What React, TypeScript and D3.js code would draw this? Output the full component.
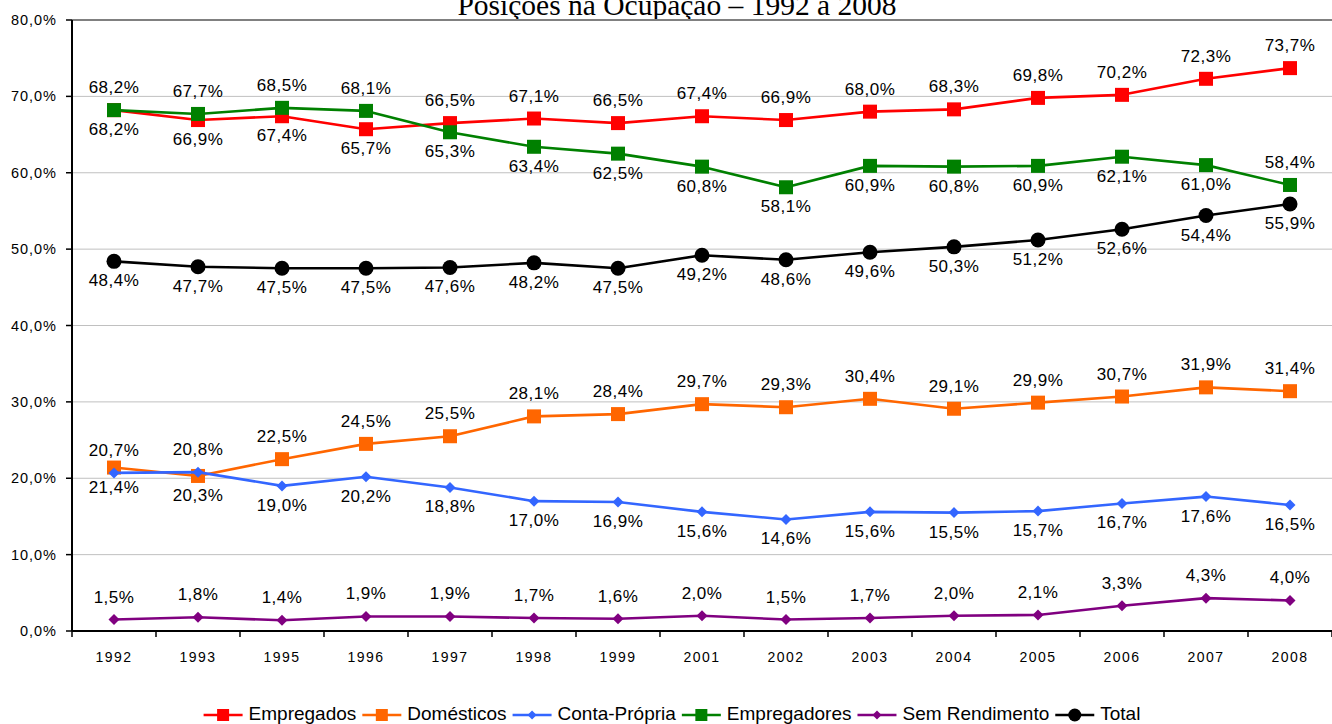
import React from 'react';
import {scaleBand, scaleLinear, line} from 'd3';

const years = ['1992', '1993', '1995', '1996', '1997', '1998', '1999', '2001', '2002', '2003', '2004', '2005', '2006', '2007', '2008'];
const yTicks = [0, 10, 20, 30, 40, 50, 60, 70, 80];

const empregados = [68.2, 66.9, 67.4, 65.7, 66.5, 67.1, 66.5, 67.4, 66.9, 68.0, 68.3, 69.8, 70.2, 72.3, 73.7];
const domesticos = [21.4, 20.3, 22.5, 24.5, 25.5, 28.1, 28.4, 29.7, 29.3, 30.4, 29.1, 29.9, 30.7, 31.9, 31.4];
const contaPropria = [20.7, 20.8, 19.0, 20.2, 18.8, 17.0, 16.9, 15.6, 14.6, 15.6, 15.5, 15.7, 16.7, 17.6, 16.5];
const empregadores = [68.2, 67.7, 68.5, 68.1, 65.3, 63.4, 62.5, 60.8, 58.1, 60.9, 60.8, 60.9, 62.1, 61.0, 58.4];
const semRendimento = [1.5, 1.8, 1.4, 1.9, 1.9, 1.7, 1.6, 2.0, 1.5, 1.7, 2.0, 2.1, 3.3, 4.3, 4.0];
const total = [48.4, 47.7, 47.5, 47.5, 47.6, 48.2, 47.5, 49.2, 48.6, 49.6, 50.3, 51.2, 52.6, 54.4, 55.9];

// where each data label sits: a = above, b = below
const empregadosLbl = 'bbbbaaaaaaaaaaa';
const domesticosLbl = 'bbaaaaaaaaaaaaa';
const contaPropriaLbl = 'aabbbbbbbbbbbbb';
const empregadoresLbl = 'aaaabbbbbbbbbba';
const semRendimentoLbl = 'aaaaaaaaaaaaaaa';
const totalLbl = 'bbbbbbbbbbbbbbb';

const series = [
  {name: 'Empregados', values: empregados, lbl: empregadosLbl, color: '#ff0000', marker: 'square', size: 14},
  {name: 'Domésticos', values: domesticos, lbl: domesticosLbl, color: '#ff6600', marker: 'square', size: 14},
  {name: 'Conta-Própria', values: contaPropria, lbl: contaPropriaLbl, color: '#3366ff', marker: 'diamond', size: 11},
  {name: 'Empregadores', values: empregadores, lbl: empregadoresLbl, color: '#008000', marker: 'square', size: 14},
  {name: 'Sem Rendimento', values: semRendimento, lbl: semRendimentoLbl, color: '#800080', marker: 'diamond', size: 11},
  {name: 'Total', values: total, lbl: totalLbl, color: '#000000', marker: 'circle', size: 15},
];

const font = '"Liberation Sans", Arial, sans-serif';
const fmt = (v: number) => v.toFixed(1).replace('.', ',') + '%';

const Marker = ({type, x, y, size, color}: any) => {
  const h = size / 2;
  if (type === 'square') return <rect x={x - h} y={y - h} width={size} height={size} fill={color} />;
  if (type === 'diamond') return <path d={`M${x},${y - h}L${x + h},${y}L${x},${y + h}L${x - h},${y}Z`} fill={color} />;
  return <circle cx={x} cy={y} r={h} fill={color} />;
};

let ctx: CanvasRenderingContext2D | null = null;
const measure = (s: string, f: string) => {
  if (!ctx) ctx = document.createElement('canvas').getContext('2d');
  if (!ctx) return s.length * 9;
  ctx.font = f;
  return ctx.measureText(s).width;
};

const App = () => {
  const width = 1332, height = 724;
  const margin = {top: 20, left: 72, right: 0, bottom: 93};

  const x = scaleBand().domain(years).range([margin.left, width - margin.right]);
  const y = scaleLinear().domain([0, 80]).range([height - margin.bottom, margin.top]);
  const cx = (d: string) => (x(d) as number) + x.bandwidth() / 2;

  const path = line<number>().x((_, i) => cx(years[i])).y(d => y(d));

  // legend flow
  const legendSize = 19;
  const legendFont = `${legendSize}px ${font}`;
  const items = series.map(s => ({...s, w: 39 + 6 + measure(s.name, legendFont) + 6}));
  const legendW = items.reduce((a, b) => a + b.w, 0) - 6;
  let lx = 672 - legendW / 2;
  const legend = items.map(s => {
    const pos = lx;
    lx += s.w;
    return {...s, pos};
  });

  return (
    <svg width={width} height={height} style={{position: 'absolute', left: 0, top: 0, background: '#fff'}}>
      <text x={677} y={15} textAnchor="middle" fontFamily='"Liberation Serif", "Times New Roman", serif' fontSize={29.5}>
        Posições na Ocupação – 1992 a 2008
      </text>

      {yTicks.map(t => (
        <g key={t}>
          {t > 0 && t < 80 && <line x1={margin.left} x2={width} y1={y(t)} y2={y(t)} stroke="#c0c0c0" strokeWidth={1} />}
          <line x1={margin.left - 6} x2={margin.left} y1={y(t)} y2={y(t)} stroke="#000" strokeWidth={1.5} />
          <text x={57} y={y(t) + 5} textAnchor="end" fontFamily={font} fontSize={14.5} letterSpacing={1}>{fmt(t)}</text>
        </g>
      ))}

      <line x1={margin.left} x2={width} y1={y(80)} y2={y(80)} stroke="#808080" strokeWidth={2} />
      <line x1={margin.left} x2={margin.left} y1={y(80)} y2={y(0)} stroke="#000" strokeWidth={2} />
      <line x1={margin.left} x2={width} y1={y(0)} y2={y(0)} stroke="#000" strokeWidth={2} />

      {years.map((d, i) => (
        <g key={d}>
          <line x1={(x(d) as number) + x.bandwidth()} x2={(x(d) as number) + x.bandwidth()} y1={y(0)} y2={y(0) + 6} stroke="#000" strokeWidth={1.5} />
          {i === 0 && <line x1={x(d) as number} x2={x(d) as number} y1={y(0)} y2={y(0) + 6} stroke="#000" strokeWidth={1.5} />}
          <text x={cx(d)} y={y(0) + 31} textAnchor="middle" fontFamily={font} fontSize={14} letterSpacing={1.5}>{d}</text>
        </g>
      ))}

      {series.map(s => (
        <g key={s.name}>
          <path d={path(s.values) || ''} fill="none" stroke={s.color} strokeWidth={2.6} strokeLinejoin="round" />
          {s.values.map((v, i) => (
            <Marker key={i} type={s.marker} x={cx(years[i])} y={y(v)} size={s.size} color={s.color} />
          ))}
        </g>
      ))}

      {series.map(s => (
        <g key={s.name + 'l'}>
          {s.values.map((v, i) => (
            <text key={i} x={cx(years[i])} y={y(v) + (s.lbl[i] === 'a' ? -17 : 25)} textAnchor="middle"
              fontFamily={font} fontSize={17} letterSpacing={0.5}>{fmt(v)}</text>
          ))}
        </g>
      ))}

      {legend.map(s => (
        <g key={s.name + 'g'}>
          <line x1={s.pos} x2={s.pos + 39} y1={715} y2={715} stroke={s.color} strokeWidth={2.6} />
          <Marker type={s.marker} x={s.pos + 19.5} y={715} size={s.size - 2} color={s.color} />
          <text x={s.pos + 45} y={720} fontFamily={font} fontSize={legendSize}>{s.name}</text>
        </g>
      ))}
    </svg>
  );
};

export default App;
